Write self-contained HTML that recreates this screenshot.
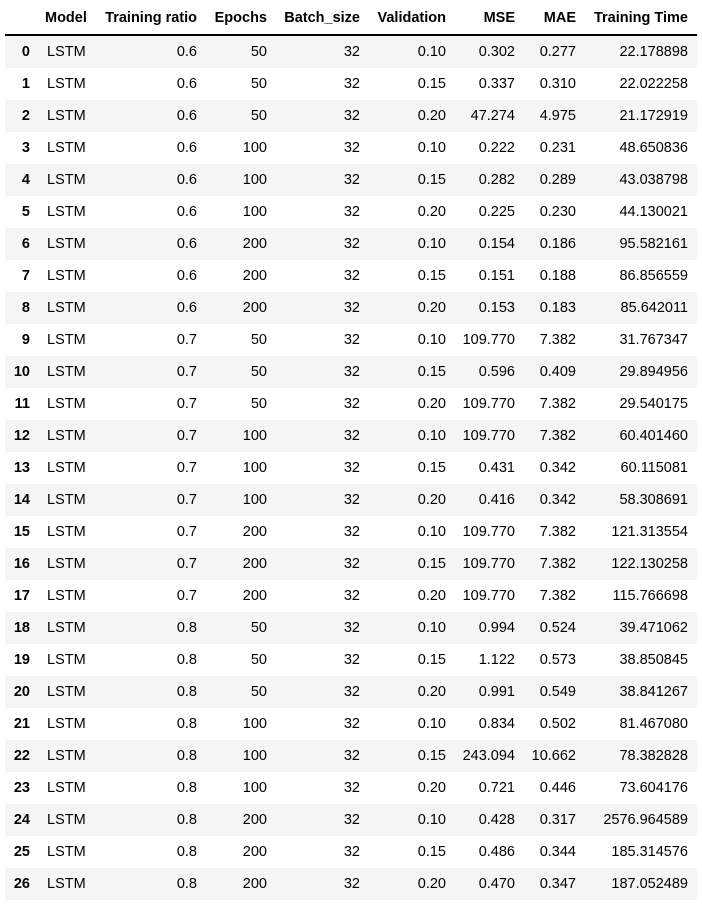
<!DOCTYPE html>
<html><head><meta charset="utf-8"><style>
body{margin:0;background:#fff;width:702px;height:912px;position:relative;font-family:"Liberation Sans",Arial,sans-serif;font-size:14.5px;color:#000;overflow:hidden}
.r{position:absolute;left:5px;width:692px;height:32px}
.c{position:absolute;top:0;line-height:32px;white-space:nowrap}
.rt{transform:translateX(-100%)}
.h{font-weight:bold}
</style></head><body>
<div id="hdr" class="r" style="top:3px;border-bottom:2px solid #000;height:31px"></div>
<script>
const cols=["Model","Training ratio","Epochs","Batch_size","Validation","MSE","MAE","Training Time"];
const ratio=["0.6","0.6","0.6","0.6","0.6","0.6","0.6","0.6","0.6","0.7","0.7","0.7","0.7","0.7","0.7","0.7","0.7","0.7","0.8","0.8","0.8","0.8","0.8","0.8","0.8","0.8","0.8"];
const epochs=[50,50,50,100,100,100,200,200,200,50,50,50,100,100,100,200,200,200,50,50,50,100,100,100,200,200,200];
const val=["0.10","0.15","0.20","0.10","0.15","0.20","0.10","0.15","0.20","0.10","0.15","0.20","0.10","0.15","0.20","0.10","0.15","0.20","0.10","0.15","0.20","0.10","0.15","0.20","0.10","0.15","0.20"];
const mse=["0.302","0.337","47.274","0.222","0.282","0.225","0.154","0.151","0.153","109.770","0.596","109.770","109.770","0.431","0.416","109.770","109.770","109.770","0.994","1.122","0.991","0.834","243.094","0.721","0.428","0.486","0.470"];
const mae=["0.277","0.310","4.975","0.231","0.289","0.230","0.186","0.188","0.183","7.382","0.409","7.382","7.382","0.342","0.342","7.382","7.382","7.382","0.524","0.573","0.549","0.502","10.662","0.446","0.317","0.344","0.347"];
const ttime=["22.178898","22.022258","21.172919","48.650836","43.038798","44.130021","95.582161","86.856559","85.642011","31.767347","29.894956","29.540175","60.401460","60.115081","58.308691","121.313554","122.130258","115.766698","39.471062","38.850845","38.841267","81.467080","78.382828","73.604176","2576.964589","185.314576","187.052489"];
const rightEdges=[0,192,262,355,441,510,571,683];
const hdr=document.getElementById('hdr');
function cell(parent,text,x,right,bold){
  const d=document.createElement('div');
  d.className='c'+(right?' rt':'')+(bold?' h':'');
  d.style.left=x+'px';d.textContent=text;
  parent.appendChild(d);return d;
}
cols.forEach((c,j)=>{
  const d=cell(hdr,c,j===0?40:rightEdges[j],j!==0,true);
  d.style.lineHeight='31px';
  
  
});
for(let i=0;i<ratio.length;i++){
  const r=document.createElement('div');
  r.className='r';r.style.top=(36+32*i)+'px';
  if(i%2===0)r.style.background='#f5f5f5';
  
  
  const vals=["LSTM",ratio[i],String(epochs[i]),"32",val[i],mse[i],mae[i],ttime[i]];
  const idx=cell(r,String(i),25,true,true);
  
  
  vals.forEach((v,j)=>{
    const d=cell(r,v,j===0?42:rightEdges[j],j!==0,false);
    
    
  });
  document.body.appendChild(r);
}
</script>
</body></html>
